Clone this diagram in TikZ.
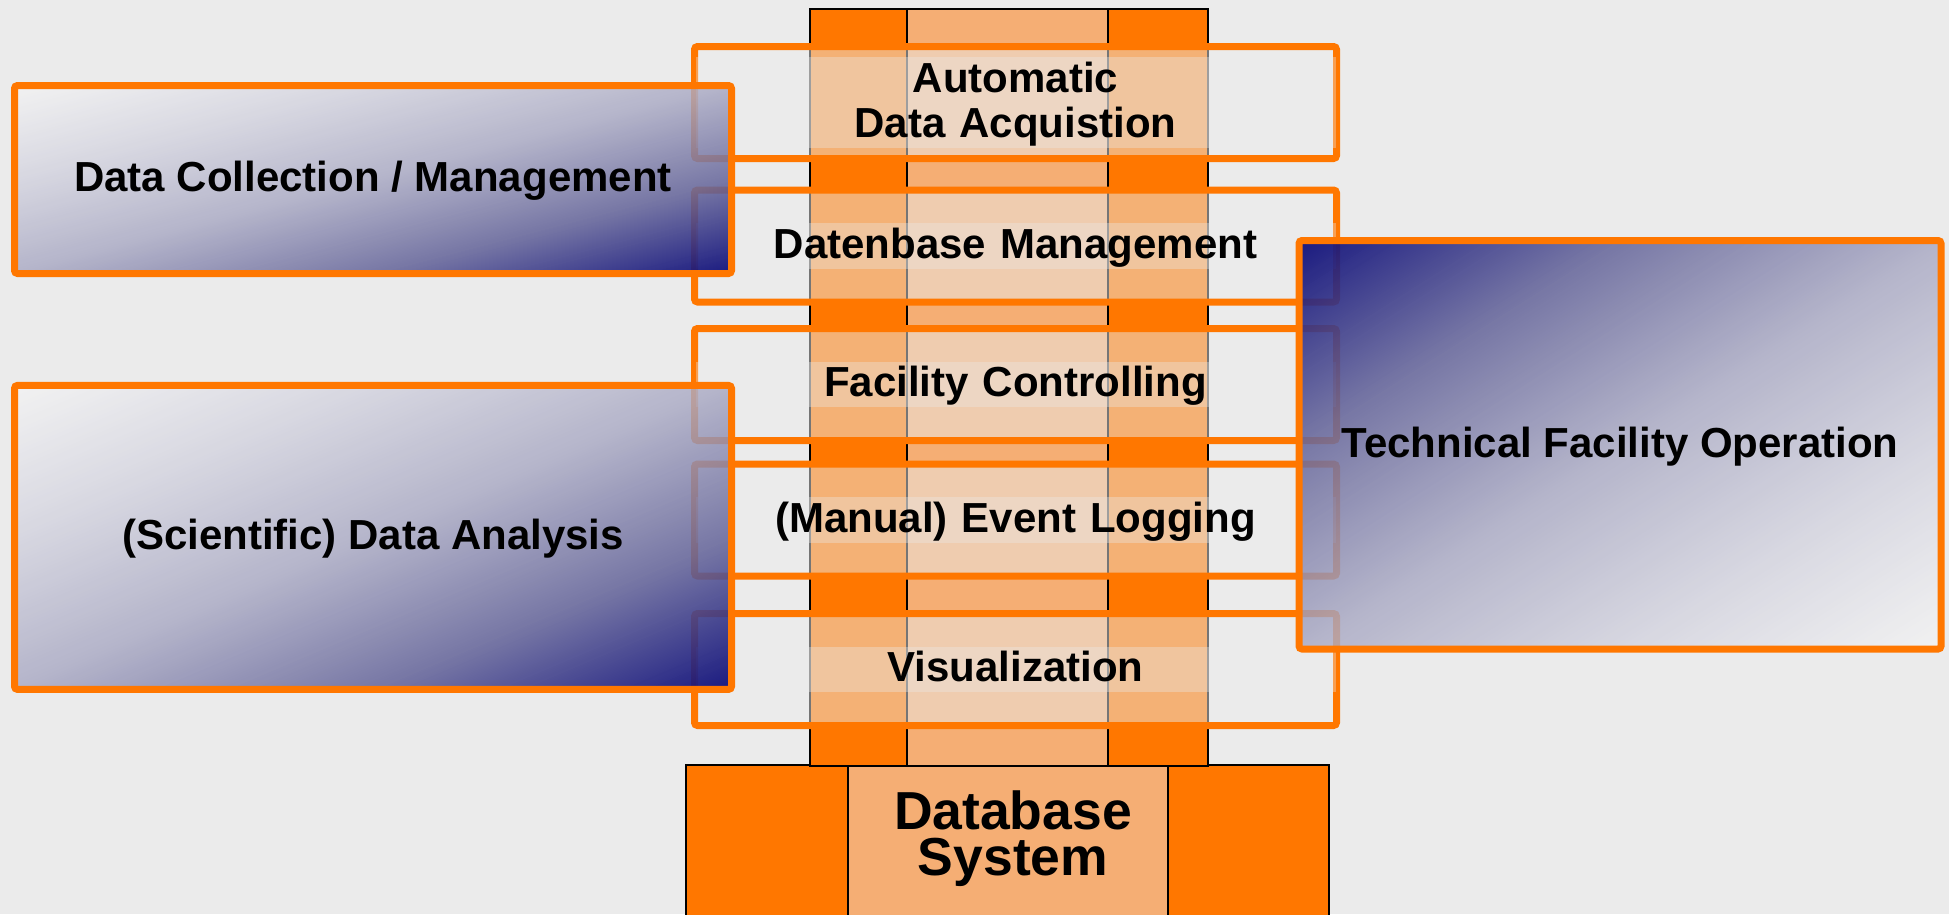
\documentclass[tikz,border=0pt]{standalone}
\usepackage{fontspec}
\setmainfont{Liberation Sans}
\usetikzlibrary{fadings}

\definecolor{bg}{RGB}{235,235,235}
\definecolor{orng}{RGB}{255,119,0}
\definecolor{lorng}{RGB}{245,174,116}
\definecolor{gradA}{RGB}{245,245,245}
\definecolor{gradAB}{RGB}{209,209,222}
\definecolor{gradB}{RGB}{168,168,195}
\definecolor{gradC}{RGB}{103,103,155}
\definecolor{gradD}{RGB}{10,10,120}

% light-to-navy ramp over the central 50bp of the shading
\pgfdeclarehorizontalshading{navyramp}{100bp}{color(0bp)=(gradA); color(25bp)=(gradA); color(37.5bp)=(gradAB); color(50bp)=(gradB); color(62.5bp)=(gradC); color(75bp)=(gradD); color(100bp)=(gradD)}

% the light end lets a little more of what lies below show through
\tikzfading[name=rampfade, left color=transparent!30, right color=transparent!7]

% diagonal ramp filling a box: centre x, centre y, width, height, direction of the navy end
\newcommand\drawramp[5]{%
  \begin{scope}
    \clip (#1-#3/2, #2-#4/2) rectangle (#1+#3/2, #2+#4/2);
    \begin{scope}[transform canvas={shift={(#1,#2)}, xscale=#3/100, yscale=#4/100, rotate=#5}]
      \shade[shading=navyramp, path fading=rampfade] (-70.71,-70.71) rectangle (70.71,70.71);
    \end{scope}
  \end{scope}}

\newcommand\labelfont{\fontsize{42}{45.5}\selectfont\bfseries}
\newcommand\tstrut{\rule[-10.5pt]{0pt}{45.5pt}}
\newcommand\dbstrut{\rule[-6pt]{0pt}{46pt}}

\tikzset{
  every node/.style={inner sep=0pt, outer sep=0pt},
  strip/.style={draw=black, line width=2pt, anchor=north west},
  layerbox/.style={draw=orng, line width=7pt, rounded corners=3pt,
    fill=bg, fill opacity=0.5, minimum width=642pt, minimum height=112pt},
  band/.style={fill=bg, fill opacity=0.35, text opacity=1,
    text width=640pt, align=center, font=\labelfont},
  frame/.style={draw=orng, line width=7pt, rounded corners=3pt},
  boxtext/.style={font=\labelfont},
}

\begin{document}
\begin{tikzpicture}[x=1pt,y=-1pt]
\useasboundingbox (0,0) rectangle (1949,914);
\fill[bg] (0,0) rectangle (1949,914);
\clip (0,0) rectangle (1949,914);

% database system block at the foot
\node[strip, fill=orng, minimum width=162pt, minimum height=170pt] (baseL) at (686,765) {};
\node[strip, fill=lorng, minimum width=320pt, minimum height=170pt] (baseM) at (848,765) {};
\node[strip, fill=orng, minimum width=161pt, minimum height=170pt] (baseR) at (1168,765) {};
\node[font=\fontsize{53.5}{46}\selectfont\bfseries, align=center] (dbtext) at (1013,838)
  {\dbstrut Database\\\dbstrut System};

% the column standing on it
\node[strip, fill=orng, minimum width=97pt, minimum height=757pt] (colL) at (810,9) {};
\node[strip, fill=lorng, minimum width=201pt, minimum height=757pt] (colM) at (907,9) {};
\node[strip, fill=orng, minimum width=100pt, minimum height=757pt] (colR) at (1108,9) {};

% functional layers crossing the column
\node[layerbox] (acq) at (1015.5,102.5) {};
\node[band] (acqtxt) at (acq) {\tstrut Automatic\\\tstrut Data Acquistion};
\node[layerbox] (dbm) at (1015.5,246) {};
\node[band] (dbmtxt) at (dbm) {\tstrut Datenbase Management};
\node[layerbox] (fac) at (1015.5,384.5) {};
\node[band] (factxt) at (fac) {\tstrut Facility Controlling};
\node[layerbox] (evt) at (1015.5,520) {};
\node[band] (evttxt) at (evt) {\tstrut (Manual) Event Logging};
\node[layerbox] (vis) at (1015.5,669.5) {};
\node[band] (vistxt) at (vis) {\tstrut Visualization};

% user domains laid over the layers
\drawramp{373}{179.5}{717}{188}{-45}
\node[frame, minimum width=717pt, minimum height=188pt] (coll) at (373,179.5) {};
\node[boxtext] (colltxt) at (coll) {\tstrut Data Collection / Management};

\drawramp{373}{537.4}{717}{304}{-45}
\node[frame, minimum width=717pt, minimum height=304pt] (ana) at (373,537.4) {};
\node[boxtext] (anatxt) at (ana) {\tstrut (Scientific) Data Analysis};

\drawramp{1620}{444.75}{642}{408.5}{135}
\node[frame, minimum width=642pt, minimum height=408.5pt] (tfo) at (1620,444.75) {};
\node[boxtext] (tfotxt) at (tfo) {\tstrut Technical Facility Operation};
\end{tikzpicture}
\end{document}
